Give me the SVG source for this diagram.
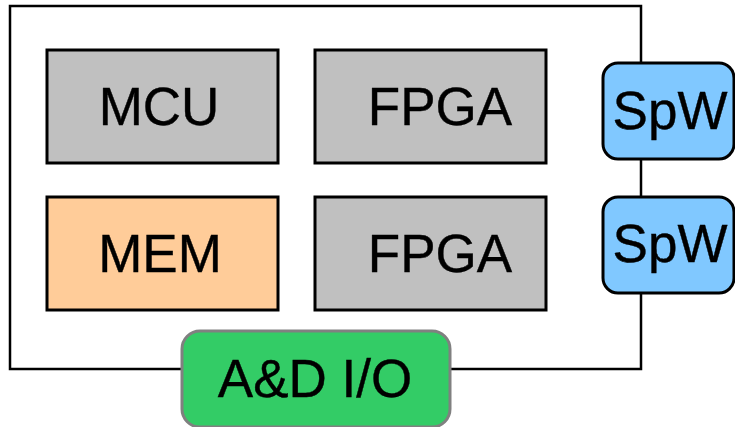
<svg xmlns="http://www.w3.org/2000/svg" width="735" height="427" viewBox="0 0 735 427">
  <style>
    .box { stroke: #000; stroke-width: 3; }
    .chip { fill: #c0c0c0; }
    .mem { fill: #ffcc99; }
    .spw { fill: #80c8ff; }
    .io { fill: #33cc66; stroke: #808080; stroke-width: 3; }
    .lbl { font-family: "Liberation Sans", Arial, sans-serif; font-size: 53px; fill: #000; text-anchor: middle; stroke: #000; stroke-width: 0.4; }
  </style>
  <rect width="735" height="427" fill="#fff"/>
  <!-- board outline -->
  <g id="connectors">
    <rect x="10" y="6" width="631" height="363" fill="none" stroke="#000" stroke-width="2.5"/>
  </g>
  <g id="mcu">
    <rect class="box chip" x="47" y="50" width="231" height="113"/>
    <text class="lbl" x="159" y="125">MCU</text>
  </g>
  <g id="fpga1">
    <rect class="box chip" x="315" y="50" width="231" height="113"/>
    <text class="lbl" x="440" y="125">FPGA</text>
  </g>
  <g id="mem">
    <rect class="box mem" x="47" y="197" width="231" height="113"/>
    <text class="lbl" x="160" y="272">MEM</text>
  </g>
  <g id="fpga2">
    <rect class="box chip" x="315" y="197" width="231" height="113"/>
    <text class="lbl" x="440" y="272">FPGA</text>
  </g>
  <g id="spw1">
    <rect class="box spw" x="603" y="63" width="131" height="96" rx="15"/>
    <text class="lbl" x="670" y="129">SpW</text>
  </g>
  <g id="spw2">
    <rect class="box spw" x="603" y="197" width="131" height="96" rx="15"/>
    <text class="lbl" x="670" y="262">SpW</text>
  </g>
  <g id="io">
    <rect class="io" x="182" y="331" width="268" height="96" rx="18"/>
    <text class="lbl" x="315" y="397">A&amp;D I/O</text>
  </g>
</svg>
